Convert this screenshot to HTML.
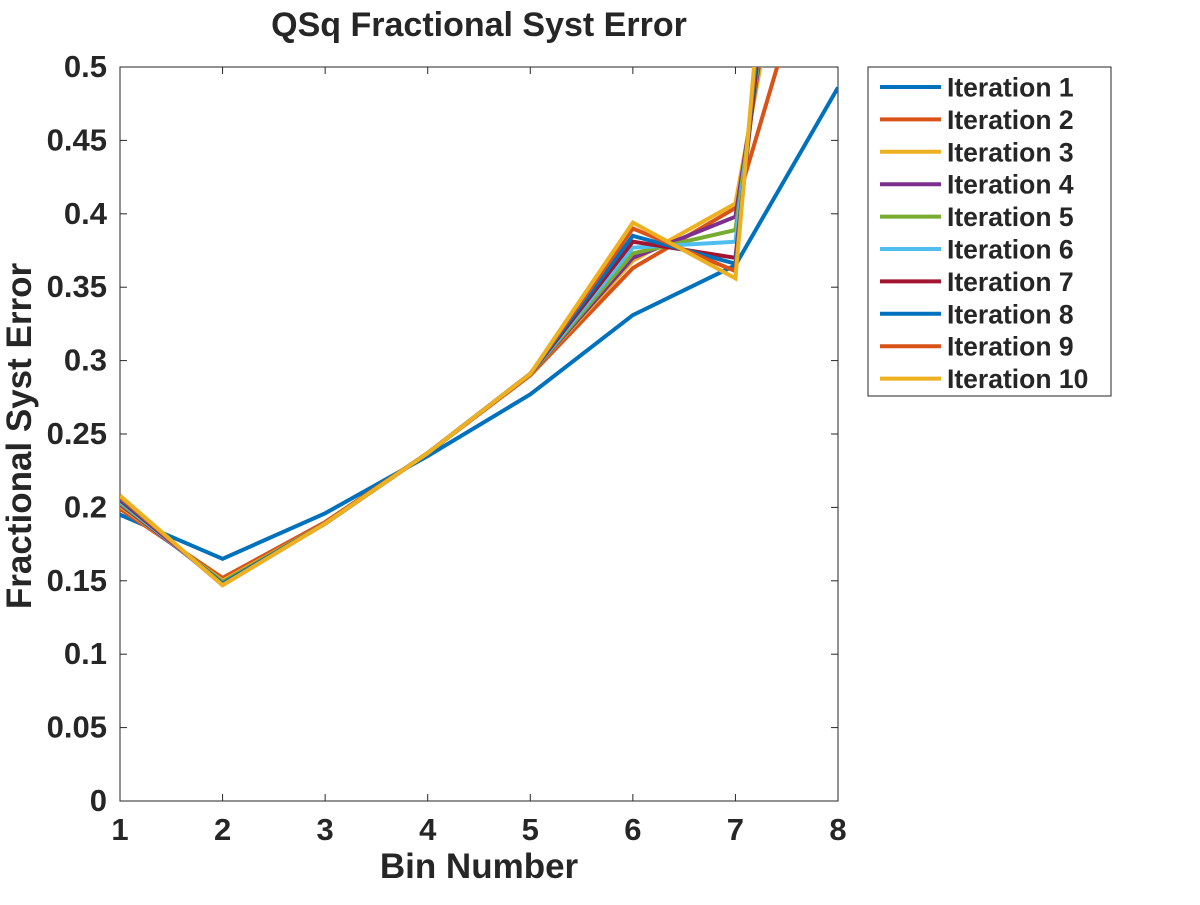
<!DOCTYPE html>
<html><head><meta charset="utf-8"><style>
body{margin:0;background:#fff;}
svg text{font-family:"Liberation Sans",Arial,sans-serif;font-weight:bold;fill:#262626;}
</style></head><body>
<svg id="chart" width="1200" height="900" xmlns="http://www.w3.org/2000/svg">
<defs><clipPath id="plotclip"><rect x="120" y="67" width="718" height="734"/></clipPath></defs>
<rect width="1200" height="900" fill="#fff"/>
<g id="axes"></g>
<g id="series" clip-path="url(#plotclip)"></g>
<g id="legend"></g>
</svg>
<script>
const bins=[1,2,3,4,5,6,7,8];
const iter1=[0.195,0.165,0.196,0.235,0.277,0.331,0.365,0.486];
const iter2=[0.199,0.152,0.190,0.237,0.290,0.363,0.404,0.64];
const iter3=[0.201,0.150,0.189,0.237,0.291,0.368,0.407,0.79];
const iter4=[0.202,0.149,0.189,0.237,0.291,0.370,0.398,0.85];
const iter5=[0.203,0.149,0.189,0.237,0.291,0.373,0.389,0.90];
const iter6=[0.204,0.148,0.189,0.237,0.291,0.377,0.381,0.95];
const iter7=[0.205,0.148,0.189,0.237,0.291,0.381,0.370,1.00];
const iter8=[0.206,0.148,0.189,0.237,0.291,0.385,0.366,1.05];
const iter9=[0.207,0.147,0.189,0.237,0.291,0.390,0.361,1.10];
const iter10=[0.208,0.147,0.189,0.237,0.291,0.394,0.356,1.15];
const seriesNames=["Iteration 1","Iteration 2","Iteration 3","Iteration 4","Iteration 5","Iteration 6","Iteration 7","Iteration 8","Iteration 9","Iteration 10"];
const seriesData=[iter1,iter2,iter3,iter4,iter5,iter6,iter7,iter8,iter9,iter10];
const colors=["#0072BD","#D95319","#EDB120","#7E2F8E","#77AC30","#4DBEEE","#A2142F","#0072BD","#D95319","#EDB120"];
const xTicks=[1,2,3,4,5,6,7,8];
const yTicks=[0,0.05,0.1,0.15,0.2,0.25,0.3,0.35,0.4,0.45,0.5];
const yTickLabels=["0","0.05","0.1","0.15","0.2","0.25","0.3","0.35","0.4","0.45","0.5"];

const NS="http://www.w3.org/2000/svg";
const L=120,R=838,T=67,B=801;
const xs=v=>L+(v-1)/(8-1)*(R-L);
const ys=v=>B-(v-0)/(0.5)*(B-T);
function mk(tag,attrs,parent){const e=document.createElementNS(NS,tag);for(const k in attrs)e.setAttribute(k,attrs[k]);parent.appendChild(e);return e;}
const axes=document.getElementById('axes');
const frame=mk('rect',{x:L,y:T,width:R-L,height:B-T,fill:'none',stroke:'#262626','stroke-width':1},axes);


xTicks.forEach(t=>{
  const x=xs(t);
  const a=mk('line',{x1:x,x2:x,y1:B,y2:B-7,stroke:'#262626'},axes);
  
  
  const b=mk('line',{x1:x,x2:x,y1:T,y2:T+7,stroke:'#262626'},axes);
  
  
  const tx=mk('text',{x:x,y:B+39,'text-anchor':'middle','font-size':31},axes);
  tx.textContent=t;
  
  
});
yTicks.forEach((t,i)=>{
  const y=ys(t);
  const a=mk('line',{x1:L,x2:L+7,y1:y,y2:y,stroke:'#262626'},axes);
  
  
  const b=mk('line',{x1:R,x2:R-7,y1:y,y2:y,stroke:'#262626'},axes);
  
  
  const tx=mk('text',{x:L-13,y:y+10,'text-anchor':'end','font-size':31},axes);
  tx.textContent=yTickLabels[i];
  
  
});
const title=mk('text',{x:479,y:36,'text-anchor':'middle','font-size':34,fill:'#000'},axes);
title.textContent='QSq Fractional Syst Error';


const xl=mk('text',{x:479,y:878,'text-anchor':'middle','font-size':35},axes);
xl.textContent='Bin Number';


const yl=mk('text',{x:0,y:0,'text-anchor':'middle','font-size':35,transform:'translate(31,436) rotate(-90)'},axes);
yl.textContent='Fractional Syst Error';



const sg=document.getElementById('series');
seriesData.forEach((d,i)=>{
  const pts=d.map((v,j)=>xs(bins[j])+','+ys(v)).join(' ');
  const p=mk('polyline',{points:pts,fill:'none',stroke:colors[i],'stroke-width':4,'stroke-linejoin':'miter'},sg);
  
  
});

const lg=document.getElementById('legend');
const box=mk('rect',{x:868,y:67,width:243,height:329,fill:'#fff',stroke:'#262626','stroke-width':1},lg);


seriesNames.forEach((n,i)=>{
  const y=87+i*32.4;
  const g=mk('g',{},lg);
  
  
  mk('line',{x1:880,x2:941,y1:y,y2:y,stroke:colors[i],'stroke-width':4},g);
  const t=mk('text',{x:947,y:y+9.5,'font-size':26.5,fill:'#000'},g);
  t.textContent=n;
});
</script>
</body></html>
